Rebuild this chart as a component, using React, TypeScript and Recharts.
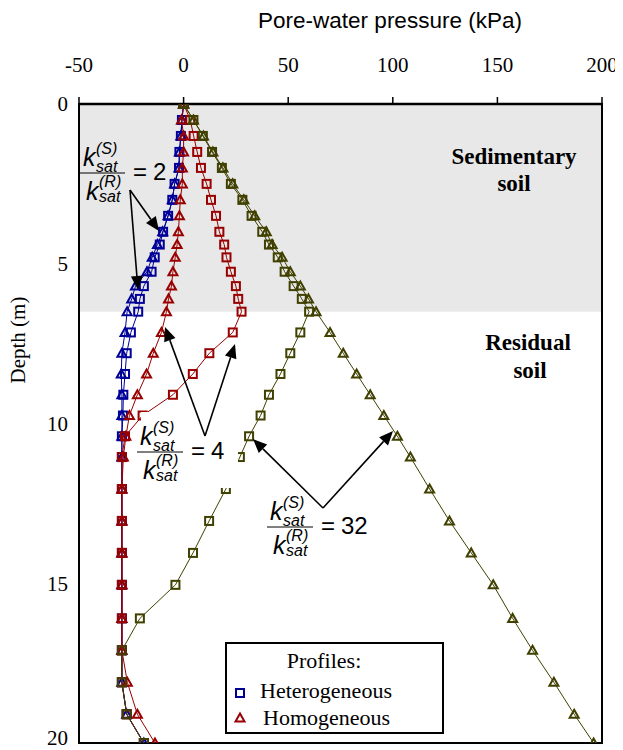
import { ScatterChart, Scatter, XAxis, YAxis, ReferenceArea } from 'recharts';

const DEPTH = [0, 0.5, 1, 1.5, 2, 2.5, 3, 3.5, 4, 4.4, 4.8, 5.25, 5.7, 6.1, 6.5, 7.15, 7.8, 8.45, 9.1, 9.75, 10.4, 11.05, 12.05, 13.05, 14.05, 15.05, 16.1, 17.1, 18.1, 19.1, 20];

// pore-water pressure (kPa) at each depth
const HET_2 = [0, -0.8, -1.3, -2.0, -2.2, -4.3, -5.4, -7.4, -9.8, -11.4, -13.8, -15.3, -19, -20.9, -21.7, -25.2, -27.2, -28, -28.8, -29, -29.5, -29.5, -29.5, -29.5, -29.5, -29.5, -29.5, -29.5, -29.5, -27.2, -19];
const HOM_2 = [0, -0.8, -1.3, -2.0, -2.2, -4.3, -5.4, -7.4, -10, -12.5, -15, -17.5, -23, -24.8, -27, -28, -29.5, -29.8, -29.5, -29.5, -29.5, -29.5, -29.5, -29.5, -29.5, -29.5, -29.5, -29.5, -29.5, -27.2, -19];
const HET_4 = [0, 3.2, 4.8, 6.5, 8.3, 11, 13.1, 15.5, 17.1, 19.4, 20.5, 22.6, 25, 26.1, 27.7, 23.5, 12.3, 4.4, -5.1, -19.6, -28, -29.5, -29.5, -29.5, -29.5, -29.5, -29.5, -29.5, -29.5, -27.2, -19];
const HOM_4 = [0, -1, 0, 0, -0.6, -0.6, -1.6, -2, -2.5, -3.1, -4, -5.1, -5.8, -7.2, -8.2, -10.6, -14.5, -17.7, -22.1, -25.9, -27.6, -28.8, -29.5, -29.5, -29.5, -29.5, -29.5, -29.5, -26.9, -22.1, -13.7];
const HET_32 = [0, 4.7, 9.2, 13.6, 18.3, 22.6, 28.1, 32.5, 37.6, 40.8, 45, 48.3, 52.6, 56.5, 60, 55.8, 51, 46.3, 40.8, 36.8, 31.3, 26.9, 20.2, 12.2, 4.5, -3.9, -20.9, -29.5, -29.5, -27.2, -19];
const HOM_32 = [0, 4.7, 9.5, 14, 18.8, 23.5, 28.8, 34, 39.5, 42.3, 47.1, 51, 55.8, 59.7, 63.3, 70, 76.3, 82.7, 89.2, 95.7, 102.2, 108.4, 117.6, 127.1, 137.5, 148, 157.3, 166.8, 177, 186.7, 196];

const X_TICKS = [-50, 0, 50, 100, 150, 200];
const Y_TICKS = [0, 5, 10, 15, 20];
const SEDIMENT_BASE = 6.5;

const BLUE = '#000099';
const RED = '#990000';
const OLIVE = '#404000';
const SERIF = '"Liberation Serif", "Times New Roman", serif';
const SANS = '"Liberation Sans", Arial, sans-serif';

const toPoints = (vals: number[]) => DEPTH.map((d, i) => ({ p: vals[i], d }));

const square = (color: string) => (props: any) => {
  const { cx, cy } = props;
  return <rect x={cx - 4} y={cy - 4} width={8} height={8} fill="none" stroke={color} strokeWidth={2} />;
};

const triangle = (color: string) => (props: any) => {
  const { cx, cy } = props;
  return (
    <polygon
      points={`${cx},${cy - 4.5} ${cx + 4.5},${cy + 3.5} ${cx - 4.5},${cy + 3.5}`}
      fill="none"
      stroke={color}
      strokeWidth={2}
    />
  );
};

function Arrow({ x1, y1, x2, y2 }: { x1: number; y1: number; x2: number; y2: number }) {
  const len = Math.hypot(x2 - x1, y2 - y1);
  const ux = (x2 - x1) / len;
  const uy = (y2 - y1) / len;
  const hl = 14;
  const hw = 6;
  const bx = x2 - ux * hl;
  const by = y2 - uy * hl;
  return (
    <g>
      <line x1={x1} y1={y1} x2={bx} y2={by} stroke="#000" strokeWidth={1.6} />
      <polygon points={`${x2},${y2} ${bx - uy * hw},${by + ux * hw} ${bx + uy * hw},${by - ux * hw}`} fill="#000" />
    </g>
  );
}

function Ratio({ x, y, w, n }: { x: number; y: number; w: number; n: string }) {
  const it = { fontFamily: SANS, fontStyle: 'italic' as const };
  return (
    <g fill="#000">
      <text x={x + 3} y={y - 7} fontSize={25} {...it}>k</text>
      <text x={x + 16} y={y - 19} fontSize={16} {...it}>(S)</text>
      <text x={x + 16} y={y - 1} fontSize={16} {...it}>sat</text>
      <line x1={x} y1={y} x2={x + w} y2={y} stroke="#000" strokeWidth={1} />
      <text x={x + 6} y={y + 27} fontSize={25} {...it}>k</text>
      <text x={x + 19} y={y + 14} fontSize={16} {...it}>(R)</text>
      <text x={x + 19} y={y + 29} fontSize={16} {...it}>sat</text>
      <text x={x + w + 8} y={y + 7} fontSize={24} fontFamily={SANS}>=</text>
      <text x={x + w + 28} y={y + 7} fontSize={24} fontFamily={SANS}>{n}</text>
    </g>
  );
}

export default function App() {
  const tickStyle = { fontFamily: SERIF, fontSize: 21, fill: '#000' };
  return (
    <div style={{ position: 'relative', width: 615, height: 742 }}>
      <ScatterChart width={615} height={742} margin={{ top: 0, right: 21, bottom: 7, left: 0 }}>
        <XAxis
          type="number"
          dataKey="p"
          orientation="top"
          domain={[-50, 200]}
          ticks={X_TICKS}
          height={96}
          tickSize={7}
          tickMargin={25}
          axisLine={{ stroke: '#000', strokeWidth: 2.5 }}
          tickLine={{ stroke: '#000', strokeWidth: 1.5 }}
          tick={tickStyle}
          allowDataOverflow
        />
        <YAxis
          type="number"
          dataKey="d"
          domain={[0, 20]}
          reversed
          ticks={Y_TICKS}
          width={71}
          tickLine={false}
          tickSize={0}
          tickMargin={11}
          axisLine={{ stroke: '#000', strokeWidth: 2 }}
          tick={tickStyle}
          allowDataOverflow
        />
        <ReferenceArea x1={-50} x2={200} y1={0} y2={SEDIMENT_BASE} fill="#e8e8e8" fillOpacity={1} stroke="none" />
        <ReferenceArea x1={-50} x2={200} y1={0} y2={20} fill="none" stroke="#000" strokeWidth={2} />
        <Scatter data={toPoints(HET_2)} shape={square(BLUE)} line={{ stroke: BLUE, strokeWidth: 1 }} lineType="joint" isAnimationActive={false} />
        <Scatter data={toPoints(HOM_2)} shape={triangle(BLUE)} line={{ stroke: BLUE, strokeWidth: 1 }} lineType="joint" isAnimationActive={false} />
        <Scatter data={toPoints(HOM_4)} shape={triangle(RED)} line={{ stroke: RED, strokeWidth: 1 }} lineType="joint" isAnimationActive={false} />
        <Scatter data={toPoints(HET_4)} shape={square(RED)} line={{ stroke: RED, strokeWidth: 1 }} lineType="joint" isAnimationActive={false} />
        <Scatter data={toPoints(HET_32)} shape={square(OLIVE)} line={{ stroke: OLIVE, strokeWidth: 1 }} lineType="joint" isAnimationActive={false} />
        <Scatter data={toPoints(HOM_32)} shape={triangle(OLIVE)} line={{ stroke: OLIVE, strokeWidth: 1 }} lineType="joint" isAnimationActive={false} />
      </ScatterChart>

      <svg width={623} height={750} style={{ position: 'absolute', left: -8, top: -8, pointerEvents: 'none' }}>
        <text x={390} y={28} textAnchor="middle" fontFamily={SANS} fontSize={22.5}>Pore-water pressure (kPa)</text>
        <text x={0} y={0} transform="translate(25,340) rotate(-90)" textAnchor="middle" fontFamily={SERIF} fontSize={21}>Depth (m)</text>

        <g fontFamily={SERIF} fontWeight="bold" fontSize={23} textAnchor="middle">
          <text x={514} y={164}>Sedimentary</text>
          <text x={514} y={191}>soil</text>
          <text x={528} y={350}>Residual</text>
          <text x={530} y={378}>soil</text>
        </g>

        <Ratio x={80} y={173} w={45} n="2" />
        <Arrow x1={130} y1={190} x2={159} y2={231} />
        <Arrow x1={130} y1={190} x2={138} y2={290} />

        <rect x={141} y={412} width={97} height={76} fill="#fff" />
        <Ratio x={137} y={452} w={46} n="4" />
        <Arrow x1={205} y1={436} x2={165} y2={327} />
        <Arrow x1={205} y1={436} x2={235} y2={344} />

        <Ratio x={267} y={527} w={46} n="32" />
        <Arrow x1={323} y1={508} x2={253} y2={439} />
        <Arrow x1={323} y1={508} x2={393} y2={431} />

        <rect x={226} y={643} width={217} height={90} fill="#fff" stroke="#000" strokeWidth={2} />
        <text x={324} y={668} textAnchor="middle" fontFamily={SERIF} fontSize={22}>Profiles:</text>
        <rect x={236} y={689} width={8} height={8} fill="none" stroke={BLUE} strokeWidth={2} />
        <text x={260} y={698} fontFamily={SERIF} fontSize={22}>Heterogeneous</text>
        <polygon points="240,713.5 244.5,721.5 235.5,721.5" fill="none" stroke={RED} strokeWidth={2} />
        <text x={263} y={725} fontFamily={SERIF} fontSize={22}>Homogeneous</text>
      </svg>
    </div>
  );
}
